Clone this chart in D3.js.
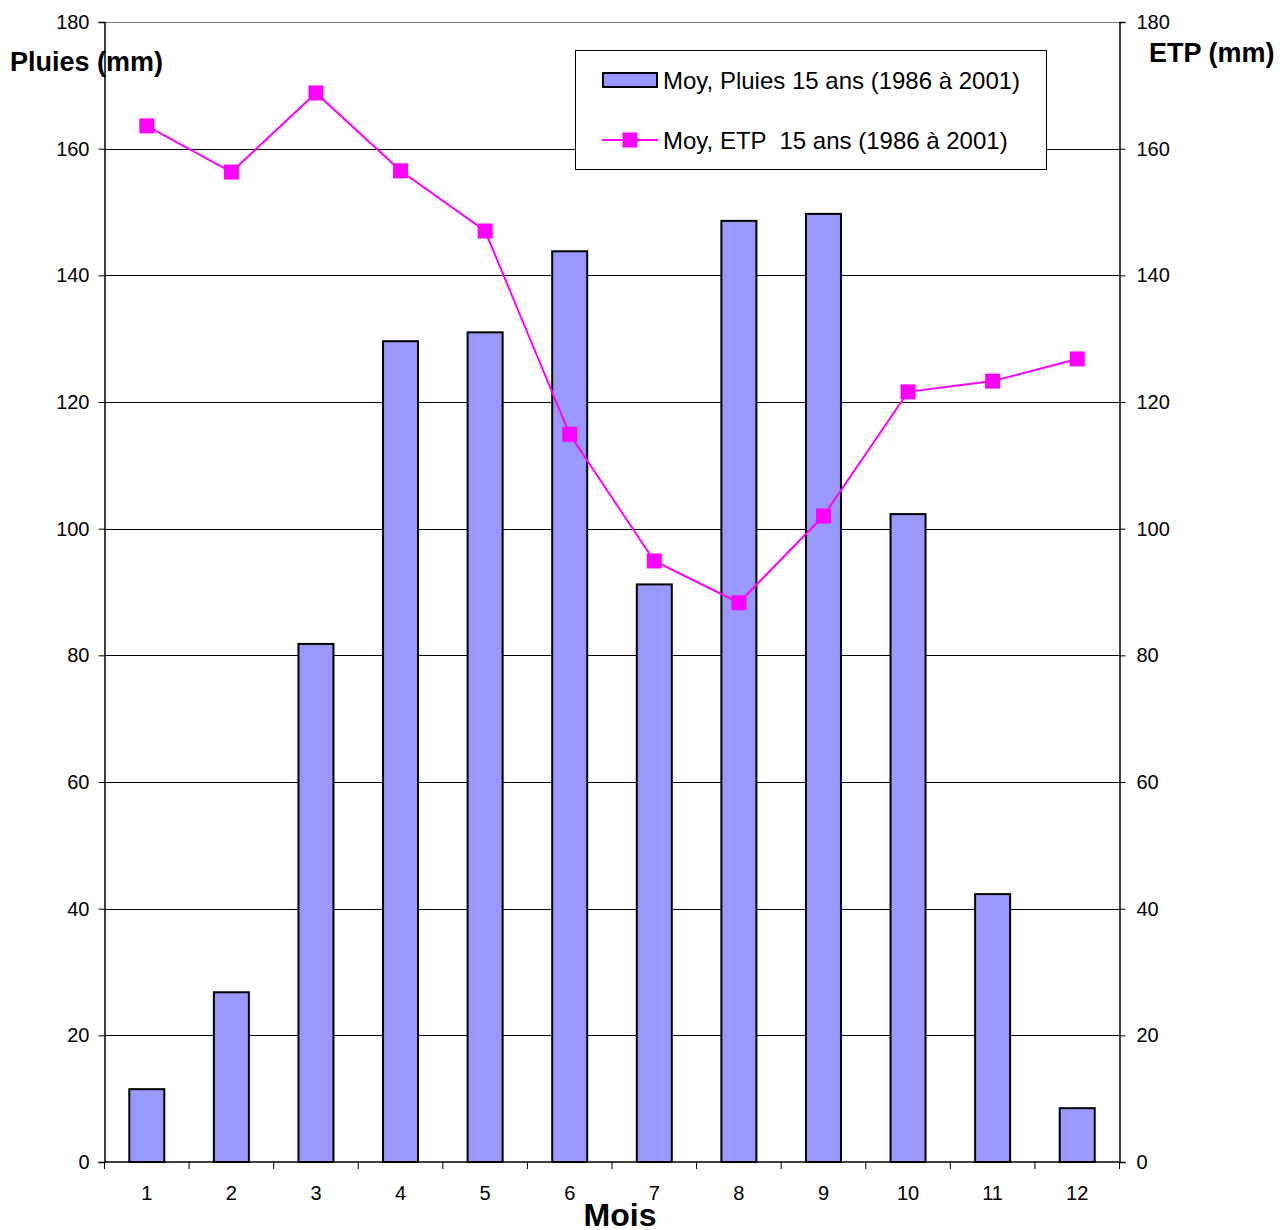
<!DOCTYPE html>
<html><head><meta charset="utf-8">
<script src="https://cdn.jsdelivr.net/npm/d3@7/dist/d3.min.js"></script>
<style>body{margin:0;background:#fff;} text{font-family:"Liberation Sans",Arial,sans-serif;}</style>
</head><body>
<svg id="c" width="1282" height="1230"></svg>
<script>
const months = ["1","2","3","4","5","6","7","8","9","10","11","12"];
const pluies = [11.5, 26.8, 81.8, 129.6, 131.0, 143.8, 91.2, 148.6, 149.7, 102.3, 42.3, 8.5];
const etp = [163.6, 156.3, 168.8, 156.5, 147.0, 114.9, 94.9, 88.3, 102.0, 121.6, 123.3, 126.8];
const yTicks = [0,20,40,60,80,100,120,140,160,180];
const legendLabels = ["Moy, Pluies 15 ans (1986 à 2001)", "Moy, ETP  15 ans (1986 à 2001)"];

const svg = d3.select("#c");
const L = 104.5, R = 1119.5, T = 22, B = 1162;
const x = d3.scaleBand().domain(months).range([L, R]);
const yL = d3.scaleLinear().domain([0,180]).range([B, T]);
const yR = d3.scaleLinear().domain([0,180]).range([B, T]);

// gridlines
svg.append("g").selectAll("line").data(yTicks.filter(d=>d>0)).join("line")
  .attr("x1", L).attr("x2", R).attr("y1", d=>Math.round(yL(d))+0.5).attr("y2", d=>Math.round(yL(d))+0.5)
  .attr("stroke", d=> d===180 ? "#808080" : "#000").attr("stroke-width", 1);

// bars
const bw = 35;
svg.append("g").selectAll("rect").data(pluies).join("rect")
  .attr("x", (d,i)=> x(months[i]) + x.bandwidth()/2 - bw/2)
  .attr("y", d=>yL(d)).attr("width", bw).attr("height", d=>B - yL(d))
  .attr("fill", "#9999FF").attr("stroke", "#000").attr("stroke-width", 2);

// axes
const gL = svg.append("g").attr("transform", `translate(${L},0)`)
  .call(d3.axisLeft(yL).tickValues(yTicks).tickSize(6).tickPadding(9));
const gR = svg.append("g").attr("transform", `translate(${R},0)`)
  .call(d3.axisRight(yR).tickValues(yTicks).tickSize(6).tickPadding(11));
[gL,gR].forEach(g=>{
  g.select(".domain").attr("stroke","#000").attr("stroke-width",1.5);
  g.selectAll(".tick line").attr("stroke","#000");
  g.selectAll(".tick text").attr("font-size", 20).attr("fill","#000").style("font-family",'"Liberation Sans",Arial,sans-serif');
});
// x axis
svg.append("line").attr("x1", L).attr("x2", R).attr("y1", B).attr("y2", B).attr("stroke","#000").attr("stroke-width",1.5);
const bounds = months.map(m=>x(m)).concat([R]);
svg.append("g").selectAll("line").data(bounds).join("line")
  .attr("x1", d=>d).attr("x2", d=>d).attr("y1", B).attr("y2", B+7).attr("stroke","#000");
svg.append("g").selectAll("text").data(months).join("text")
  .attr("x", d=>x(d)+x.bandwidth()/2).attr("y", 1200).attr("text-anchor","middle")
  .attr("font-size", 20).text(d=>d);

// ETP line
const line = d3.line().x((d,i)=>x(months[i])+x.bandwidth()/2).y(d=>yR(d));
svg.append("path").datum(etp).attr("d", line).attr("fill","none").attr("stroke","#FF00FF").attr("stroke-width",2);
const ms = 15;
svg.append("g").selectAll("rect").data(etp).join("rect")
  .attr("x",(d,i)=>x(months[i])+x.bandwidth()/2-ms/2).attr("y", d=>yR(d)-ms/2)
  .attr("width", ms).attr("height", ms).attr("fill","#FF00FF");

// titles
svg.append("text").attr("x",10).attr("y",71).attr("font-size",27).attr("font-weight","bold").text("Pluies (mm)");
svg.append("text").attr("x",1149).attr("y",62).attr("font-size",27).attr("font-weight","bold").text("ETP (mm)");
svg.append("text").attr("x",620).attr("y",1226).attr("text-anchor","middle").attr("font-size",32).attr("font-weight","bold").text("Mois");

// legend
const lg = svg.append("g");
lg.append("rect").attr("x",575.5).attr("y",50.5).attr("width",471).attr("height",119).attr("fill","#fff").attr("stroke","#000").attr("stroke-width",1);
lg.append("rect").attr("x",603).attr("y",73).attr("width",54).attr("height",14).attr("fill","#9999FF").attr("stroke","#000").attr("stroke-width",2);
lg.append("text").attr("x",663).attr("y",89).attr("font-size",24).text(legendLabels[0]);
lg.append("line").attr("x1",602).attr("x2",658).attr("y1",140).attr("y2",140).attr("stroke","#FF00FF").attr("stroke-width",2);
lg.append("rect").attr("x",622.5).attr("y",132.5).attr("width",15).attr("height",15).attr("fill","#FF00FF");
lg.append("text").attr("x",663).attr("y",149).attr("font-size",24).attr("xml:space","preserve").style("white-space","pre").text(legendLabels[1]);
</script>
</body></html>
